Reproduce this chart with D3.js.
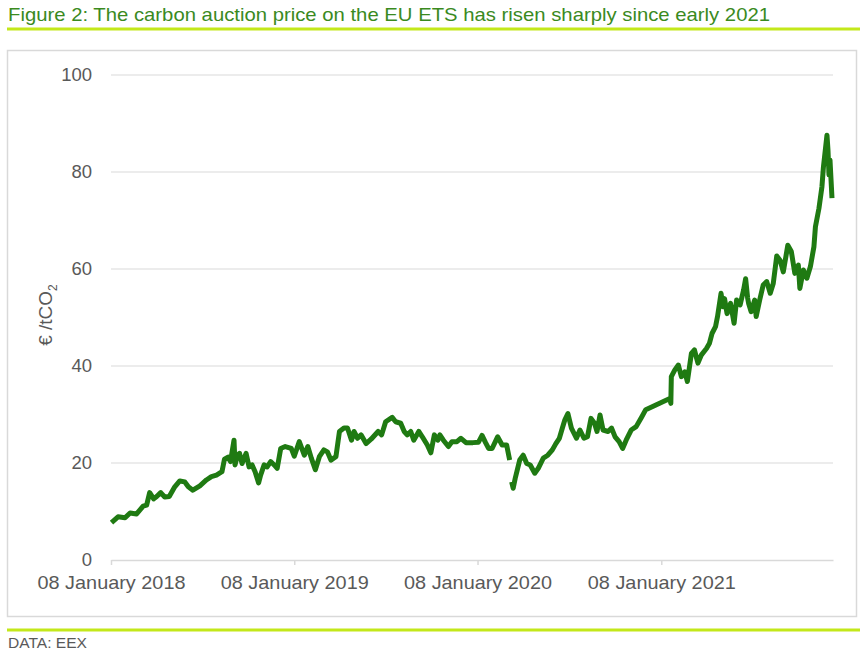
<!DOCTYPE html>
<html>
<head>
<meta charset="utf-8">
<script src="https://cdn.jsdelivr.net/npm/d3@7"></script>
<style>
  body { margin: 0; background: #fff; }
  svg { display: block; }
</style>
</head>
<body>
<div id="chart"></div>
<script>
// EU ETS auction price (€/tCO2); null = gap in the series
const dates = [
  '2018-01-09','2018-01-22','2018-02-05','2018-02-15','2018-02-28','2018-03-13','2018-03-20','2018-03-26',
  '2018-04-03','2018-04-09','2018-04-17','2018-04-25','2018-05-04','2018-05-15','2018-05-25','2018-06-04',
  '2018-06-11','2018-06-20','2018-07-04','2018-07-17','2018-07-27','2018-08-06','2018-08-17','2018-08-22',
  '2018-08-29','2018-09-03','2018-09-10','2018-09-12','2018-09-17','2018-09-21','2018-09-26','2018-10-04',
  '2018-10-10','2018-10-16','2018-10-22','2018-10-29','2018-11-02','2018-11-09','2018-11-15','2018-11-22',
  '2018-11-29','2018-12-05','2018-12-12','2018-12-21','2019-01-02','2019-01-08','2019-01-18','2019-01-28',
  '2019-02-04','2019-02-11','2019-02-19','2019-02-27','2019-03-08','2019-03-15','2019-03-22','2019-04-01',
  '2019-04-08','2019-04-17','2019-04-24','2019-05-02','2019-05-07','2019-05-14','2019-05-21','2019-05-31',
  '2019-06-10','2019-06-24','2019-07-01','2019-07-09','2019-07-22','2019-07-29','2019-08-08','2019-08-15',
  '2019-08-21','2019-08-28','2019-09-03','2019-09-13','2019-09-20','2019-09-30','2019-10-07','2019-10-14',
  '2019-10-21','2019-10-25','2019-11-01','2019-11-11','2019-11-18','2019-11-28','2019-12-06','2019-12-16',
  '2019-12-30','2020-01-10','2020-01-17','2020-01-24','2020-01-30','2020-02-06','2020-02-17','2020-02-26',
  '2020-03-06','2020-03-12','2020-03-14','2020-03-16','2020-03-19','2020-03-23','2020-04-01','2020-04-08',
  '2020-04-15','2020-04-22','2020-05-01','2020-05-08','2020-05-18','2020-05-27','2020-06-05','2020-06-12',
  '2020-06-19','2020-06-25','2020-06-30','2020-07-06','2020-07-13','2020-07-23','2020-07-30','2020-08-07',
  '2020-08-14','2020-08-21','2020-08-28','2020-09-02','2020-09-08','2020-09-14','2020-09-24','2020-10-01',
  '2020-10-08','2020-10-16','2020-10-23','2020-10-30','2020-11-09','2020-11-19','2020-11-30','2020-12-08',
  '2021-01-25','2021-01-27','2021-01-28','2021-02-04','2021-02-11','2021-02-17','2021-02-24','2021-03-01',
  '2021-03-09','2021-03-15','2021-03-22','2021-03-29','2021-04-08','2021-04-14','2021-04-19','2021-04-26',
  '2021-04-30','2021-05-07','2021-05-11','2021-05-14','2021-05-19','2021-05-26','2021-06-02','2021-06-07',
  '2021-06-14','2021-06-21','2021-06-25','2021-06-29','2021-07-01','2021-07-06','2021-07-13','2021-07-16',
  '2021-07-23','2021-07-30','2021-08-06','2021-08-13','2021-08-19','2021-08-26','2021-09-02','2021-09-08',
  '2021-09-17','2021-09-24','2021-10-01','2021-10-08','2021-10-11','2021-10-18','2021-10-25','2021-11-01',
  '2021-11-08','2021-11-11','2021-11-18','2021-11-24','2021-11-27','2021-12-04','2021-12-06','2021-12-08',
  '2021-12-10','2021-12-14'
];
const prices = [
  7.7, 8.9, 8.7, 9.7, 9.5, 11.1, 11.3, 13.9,
  12.6, 13.1, 13.9, 13.0, 13.1, 15.1, 16.3, 16.1,
  15.1, 14.4, 15.3, 16.5, 17.2, 17.5, 18.2, 20.8,
  21.2, 20.3, 24.7, 19.6, 21.6, 22.0, 19.9, 22.0,
  19.2, 19.6, 18.2, 15.9, 17.5, 19.6, 19.2, 20.3,
  19.6, 18.9, 23.0, 23.4, 23.0, 21.4, 24.4, 21.6,
  23.4, 21.0, 18.6, 21.3, 22.7, 22.3, 20.6, 21.3,
  26.5, 27.2, 27.2, 24.7, 26.5, 25.1, 25.8, 24.0,
  24.9, 26.5, 25.8, 28.5, 29.4, 28.5, 28.2, 26.5,
  25.8, 26.5, 24.7, 26.5, 25.4, 23.7, 22.1, 25.8,
  24.7, 25.8, 24.7, 23.4, 24.4, 24.4, 25.1, 24.2,
  24.2, 24.3, 25.7, 24.2, 23.0, 23.0, 25.4, 23.7,
  23.7, 20.6, null, 16.1, 14.8, 16.8, 20.6, 21.6,
  19.9, 19.6, 17.9, 18.9, 21.0, 21.6, 22.7, 24.0,
  25.1, 27.2, 28.9, 30.2, 27.2, 25.1, 26.8, 25.1,
  25.4, 29.2, 28.2, 26.5, 29.9, 26.8, 26.5, 27.2,
  25.4, 24.4, 23.0, 24.7, 26.8, 27.5, 29.5, 31.0,
  33.3, 32.3, 37.8, 39.2, 40.2, 37.8, 38.8, 36.8,
  42.6, 43.3, 40.6, 42.3, 43.6, 44.7, 46.7, 48.1,
  50.2, 55.0, 52.2, 53.9, 50.8, 52.9, 48.8, 53.6,
  52.6, 55.7, 58.0, 54.0, 52.9, 51.2, 53.6, 50.2,
  53.6, 56.7, 57.4, 55.0, 57.0, 62.7, 61.7, 59.4,
  64.9, 63.6, 59.1, 60.8, 56.0, 59.8, 58.1, 60.5,
  64.6, 68.7, 72.5, 77.0, 81.1, 87.6, 84.5, 79.4,
  82.5, 74.6
];

const yTicks = [0, 20, 40, 60, 80, 100];
const xTicks = ['2018-01-08', '2019-01-08', '2020-01-08', '2021-01-08'];
const xDomain = ['2018-01-08', '2021-12-16'];

const titleText = 'Figure 2: The carbon auction price on the EU ETS has risen sharply since early 2021';
const sourceText = 'DATA: EEX';

const width = 867, height = 656;
const font = '"Liberation Sans", Arial, sans-serif';
const parse = d3.timeParse('%Y-%m-%d');
const fmt = d3.timeFormat('%d %B %Y');

const data = dates.map((d, i) => ({ date: parse(d), value: prices[i] }));

const svg = d3.select('#chart').append('svg')
  .attr('width', width)
  .attr('height', height);

// Title and rules
svg.append('text')
  .attr('x', 8)
  .attr('y', 21)
  .attr('textLength', 762)
  .attr('lengthAdjust', 'spacingAndGlyphs')
  .style('font-family', font)
  .style('font-size', '19px')
  .style('fill', '#3a8a1e')
  .text(titleText);

svg.append('line')
  .attr('x1', 7).attr('x2', 860).attr('y1', 29).attr('y2', 29)
  .style('stroke', '#c3e81a').style('stroke-width', 3);

svg.append('line')
  .attr('x1', 7).attr('x2', 860).attr('y1', 630).attr('y2', 630)
  .style('stroke', '#c3e81a').style('stroke-width', 3);

svg.append('text')
  .attr('x', 8)
  .attr('y', 648)
  .attr('textLength', 79)
  .attr('lengthAdjust', 'spacingAndGlyphs')
  .style('font-family', font)
  .style('font-size', '14.5px')
  .style('fill', '#595959')
  .text(sourceText);

// Chart frame
svg.append('rect')
  .attr('x', 7.5).attr('y', 50.5)
  .attr('width', 849).attr('height', 566)
  .style('fill', 'none')
  .style('stroke', '#d9d9d9')
  .style('stroke-width', 1.5);

// Scales
const x = d3.scaleTime()
  .domain(xDomain.map(parse))
  .range([111, 833]);

const y = d3.scaleLinear()
  .domain([0, 100])
  .range([560, 75]);

// Gridlines
svg.append('g')
  .selectAll('line')
  .data(yTicks.filter(t => t > 0))
  .enter()
  .append('line')
  .attr('x1', 111).attr('x2', 833)
  .attr('y1', d => y(d)).attr('y2', d => y(d))
  .style('stroke', '#d9d9d9')
  .style('stroke-width', 1);

// Y axis labels
const yAxis = svg.append('g')
  .attr('transform', 'translate(111,0)')
  .call(d3.axisLeft(y).tickValues(yTicks).tickSize(0).tickPadding(19));
yAxis.select('.domain').remove();
yAxis.selectAll('text')
  .style('font-family', font)
  .style('font-size', '18.5px')
  .style('fill', '#595959');

// X axis
const xAxis = svg.append('g')
  .attr('transform', `translate(0,${y(0)})`)
  .call(d3.axisBottom(x).tickValues(xTicks.map(parse)).tickFormat(fmt).tickSizeInner(5).tickSizeOuter(0).tickPadding(11));
xAxis.select('.domain')
  .style('stroke', '#d9d9d9')
  .style('stroke-width', 1.5);
xAxis.selectAll('.tick line')
  .style('stroke', '#d9d9d9')
  .style('stroke-width', 1.5);
xAxis.selectAll('text')
  .attr('textLength', 148)
  .attr('lengthAdjust', 'spacingAndGlyphs')
  .style('font-family', font)
  .style('font-size', '18.5px')
  .style('fill', '#595959');

// Y axis title
const yTitle = svg.append('text')
  .attr('transform', 'translate(52,315) rotate(-90)')
  .attr('text-anchor', 'middle')
  .style('font-family', font)
  .style('font-size', '19px')
  .style('fill', '#595959');
yTitle.append('tspan').text('€ /tCO');
yTitle.append('tspan').attr('dy', 5).style('font-size', '12px').text('2');

// Price line
const line = d3.line()
  .defined(d => d.value !== null)
  .x(d => x(d.date))
  .y(d => y(d.value));

svg.append('path')
  .datum(data)
  .attr('d', line)
  .style('fill', 'none')
  .style('stroke', '#1f7a12')
  .style('stroke-width', 5)
  .style('stroke-linejoin', 'round');
</script>
</body>
</html>
